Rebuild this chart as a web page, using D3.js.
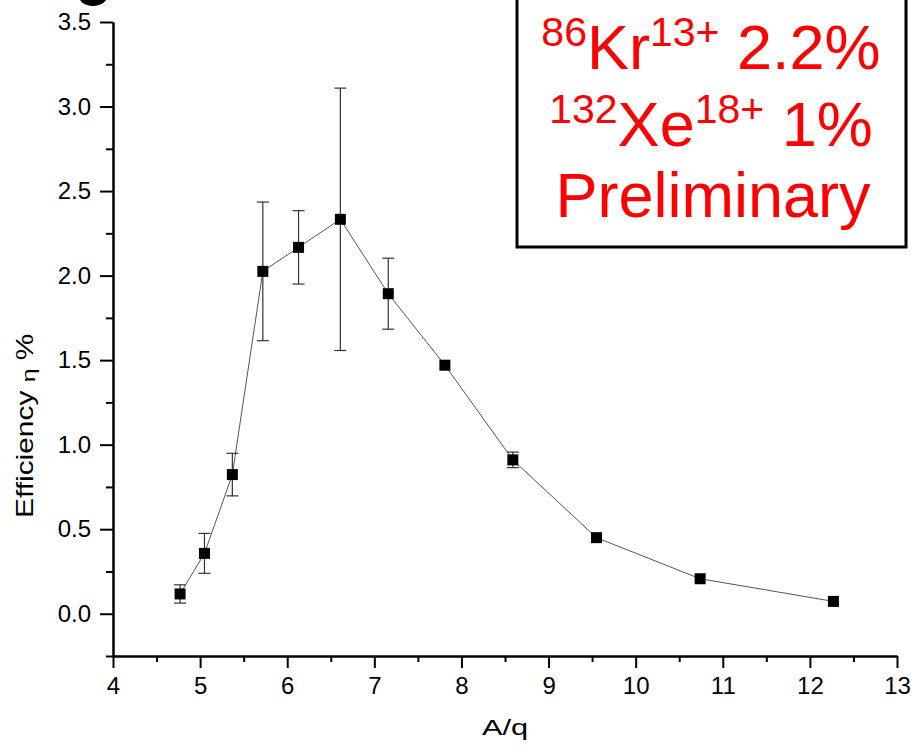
<!DOCTYPE html>
<html>
<head>
<meta charset="utf-8">
<script src="https://cdn.jsdelivr.net/npm/d3@7"></script>
<style>
	body { margin: 0; background: #fff; }
	svg { display: block; font-family: Arial, "Liberation Sans", sans-serif; }
</style>
</head>
<body>
<svg id="chart" width="911" height="749"></svg>
<script>
// A/q values and efficiency (%) with error bars
var aq = [4.77, 5.05, 5.37, 5.72, 6.13, 6.61, 7.16, 7.81, 8.59, 9.55, 10.74, 12.27];
var eff = [0.117, 0.357, 0.823, 2.025, 2.167, 2.333, 1.893, 1.47, 0.91, 0.45, 0.207, 0.073];
var err = [0.054, 0.118, 0.126, 0.41, 0.217, 0.776, 0.21, 0.0, 0.046, 0.0, 0.0, 0.0];

var xTicks = [4, 5, 6, 7, 8, 9, 10, 11, 12, 13];
var xMinor = [4.5, 5.5, 6.5, 7.5, 8.5, 9.5, 10.5, 11.5, 12.5];
var yTicks = [0, 0.5, 1.0, 1.5, 2.0, 2.5, 3.0, 3.5];
var yMinor = [-0.25, 0.25, 0.75, 1.25, 1.75, 2.25, 2.75, 3.25];

var data = aq.map((d, i) => ({x: d, y: eff[i], e: err[i]}));

var svg = d3.select("#chart"),
	margin = {top: 22, right: 14, bottom: 93, left: 113},
	width = +svg.attr("width"),
	height = +svg.attr("height");

var x = d3.scaleLinear()
	.domain([4, 13])
	.range([margin.left, width - margin.right]);

var y = d3.scaleLinear()
	.domain([-0.25, 3.5])
	.range([height - margin.bottom, margin.top]);

// bottom of a cut-off title glyph at the top left
svg.append("ellipse")
	.attr("cx", 93)
	.attr("cy", -7)
	.attr("rx", 15.5)
	.attr("ry", 13)
	.attr("fill", "#000");

// axes
svg.append("g")
	.attr("transform", `translate(0,${y(-0.25)})`)
	.call(d3.axisBottom(x).tickValues(xTicks).tickSize(12).tickPadding(9).tickSizeOuter(0).tickFormat(d3.format("d")));

svg.append("g")
	.attr("transform", `translate(0,${y(-0.25)})`)
	.call(d3.axisBottom(x).tickValues(xMinor).tickSize(6).tickSizeOuter(0).tickFormat(""));

svg.append("g")
	.attr("transform", `translate(${x(4)},0)`)
	.call(d3.axisLeft(y).tickValues(yTicks).tickSize(13).tickPadding(9).tickSizeOuter(0).tickFormat(d3.format(".1f")));

svg.append("g")
	.attr("transform", `translate(${x(4)},0)`)
	.call(d3.axisLeft(y).tickValues(yMinor).tickSize(7).tickSizeOuter(0).tickFormat(""));

svg.selectAll(".domain")
	.attr("stroke", "#000")
	.attr("stroke-width", 2);

svg.selectAll(".tick line")
	.attr("stroke", "#000")
	.attr("stroke-width", 2);

svg.selectAll(".tick text")
	.attr("font-size", "24px")
	.attr("font-family", "Arial, 'Liberation Sans', sans-serif")
	.attr("fill", "#000");

// connecting line
svg.append("path")
	.datum(data)
	.attr("fill", "none")
	.attr("stroke", "#555")
	.attr("stroke-width", 1)
	.attr("d", d3.line().x(d => x(d.x)).y(d => y(d.y)));

// error bars
var bars = svg.append("g")
	.attr("stroke", "#333")
	.attr("stroke-width", 1.2)
	.selectAll("g")
	.data(data.filter(d => d.e > 0))
	.enter()
	.append("g");

bars.append("line")
	.attr("x1", d => x(d.x))
	.attr("x2", d => x(d.x))
	.attr("y1", d => y(d.y - d.e))
	.attr("y2", d => y(d.y + d.e));

bars.append("line")
	.attr("x1", d => x(d.x) - 6)
	.attr("x2", d => x(d.x) + 6)
	.attr("y1", d => y(d.y + d.e))
	.attr("y2", d => y(d.y + d.e));

bars.append("line")
	.attr("x1", d => x(d.x) - 6)
	.attr("x2", d => x(d.x) + 6)
	.attr("y1", d => y(d.y - d.e))
	.attr("y2", d => y(d.y - d.e));

// markers
svg.append("g")
	.selectAll("rect")
	.data(data)
	.enter()
	.append("rect")
	.attr("x", d => x(d.x) - 5.5)
	.attr("y", d => y(d.y) - 5.5)
	.attr("width", 11)
	.attr("height", 11)
	.attr("fill", "#000");

// axis titles (stretched like the original)
svg.append("text")
	.attr("transform", `translate(${(x(4) + x(13)) / 2},735) scale(1.4,1)`)
	.attr("text-anchor", "middle")
	.attr("font-size", "22px")
	.text("A/q");

var yl = svg.append("text")
	.attr("transform", "translate(33,518) rotate(-90) scale(1.3,1)")
	.attr("font-size", "23px");
yl.append("tspan").text("Efficiency ");
yl.append("tspan").attr("font-size", "19px").attr("dy", 2).text("η");
yl.append("tspan").attr("dy", -2).text(" %");

// annotation box
svg.append("rect")
	.attr("x", 517)
	.attr("y", -10)
	.attr("width", 389)
	.attr("height", 257)
	.attr("fill", "#fff")
	.attr("stroke", "#000")
	.attr("stroke-width", 3);

var note = svg.append("g")
	.attr("fill", "#ff0000")
	.attr("font-size", "63px")
	.attr("text-anchor", "middle");

var l1 = note.append("text").attr("x", 711).attr("y", 69);
l1.append("tspan").attr("font-size", "41px").attr("dy", -23).text("86");
l1.append("tspan").attr("dy", 23).text("Kr");
l1.append("tspan").attr("font-size", "41px").attr("dy", -23).text("13+");
l1.append("tspan").attr("dy", 23).text(" 2.2%");

var l2 = note.append("text").attr("x", 711).attr("y", 146);
l2.append("tspan").attr("font-size", "41px").attr("dy", -23).text("132");
l2.append("tspan").attr("dy", 23).text("Xe");
l2.append("tspan").attr("font-size", "41px").attr("dy", -23).text("18+");
l2.append("tspan").attr("dy", 23).text(" 1%");

note.append("text")
	.attr("x", 713)
	.attr("y", 217)
	.text("Preliminary");
</script>
</body>
</html>
